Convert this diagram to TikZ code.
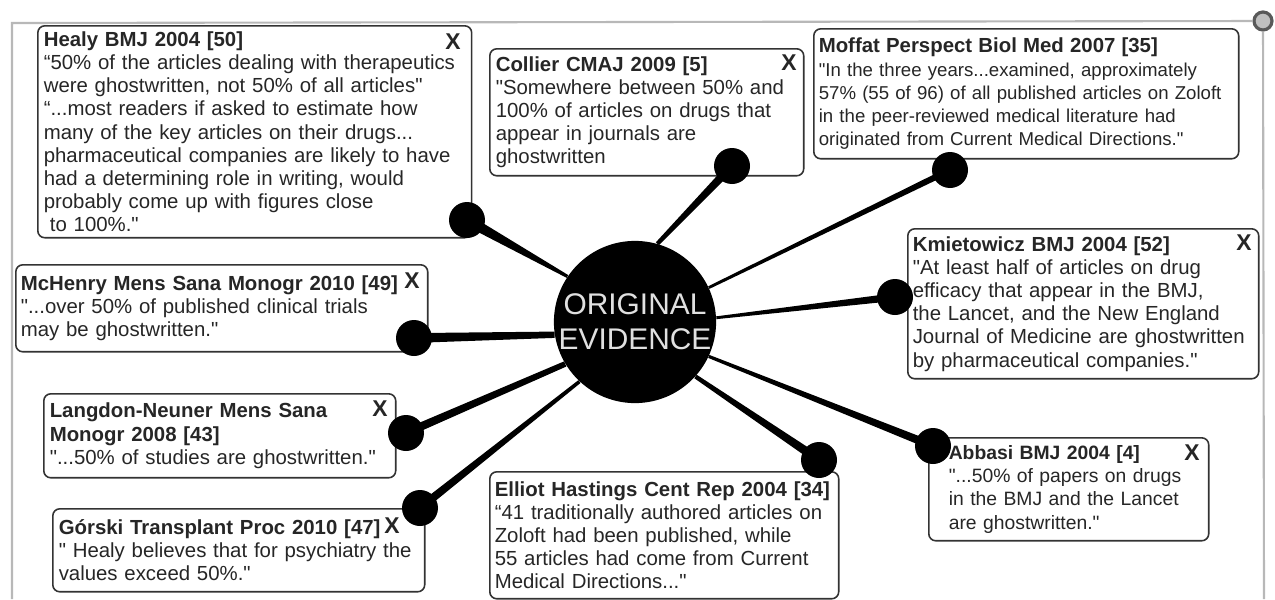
\documentclass[tikz,border=0pt]{standalone}
\usepackage{fontspec}
\setmainfont{Liberation Sans}[Ligatures=TeXOff]
\usepackage{tikz}
\usetikzlibrary{calc}
\usetikzlibrary{positioning}
\tikzstyle{quotebox} = [draw=black!80, line width=0.9pt, rounded corners=4pt, fill=white, anchor=north west, align=left, inner xsep=0.12cm, inner ysep=0.05cm, text=black!85, font=\fontsize{11.6}{13.2}\selectfont]
\tikzstyle{knob} = [circle, fill=black, minimum size=0.72cm, inner sep=0pt]
\tikzstyle{closex} = [inner sep=0pt, text=black!85, font=\bfseries\fontsize{13}{13}\selectfont]
\tikzstyle{frameline} = [draw=black!28, line width=1.2pt]
\newcommand{\spokewedge}[4]{\fill ($(#1)!#3!90:(#2)$) -- ($(#2)!#4!-90:(#1)$) -- ($(#2)!#4!90:(#1)$) -- ($(#1)!#3!-90:(#2)$) -- cycle;}

\begin{document}
\begin{tikzpicture}[x=0.02cm, y=-0.02cm]
\useasboundingbox (0,0) rectangle (1275,599);
% frame
\node [circle, fill=black!25, draw=black!65, line width=1.8pt, minimum size=0.36cm, inner sep=0pt] (corner) at (1263,21) {};
\draw [frameline] (12,599) -- (12,23) -- (corner);
\draw [frameline] (corner) -- (1264,599);
% quotes
\node [quotebox, text width=8.44cm, minimum height=4.24cm] (healy) at (37,25) {\textbf{Healy BMJ 2004 [50]}\\“50\% of the articles dealing with therapeutics\\were ghostwritten, not 50\% of all articles"\\“...most readers if asked to estimate how\\many of the key articles on their drugs...\\pharmaceutical companies are likely to have\\had a determining role in writing, would\\probably come up with figures close\\\hspace*{0.3em}to 100\%."};
\node [quotebox, text width=6.04cm, minimum height=2.54cm] (collier) at (489,48) {\textbf{Collier CMAJ 2009 [5]}\\"Somewhere between 50\% and\\100\% of articles on drugs that\\appear in journals are\\ghostwritten};
\node [quotebox, inner xsep=0.1cm, text width=8.3cm, minimum height=2.6cm, font=\fontsize{10.6}{13.2}\selectfont] (moffat) at (813,28) {\textbf{\fontsize{11.6}{13.2}\selectfont Moffat Perspect Biol Med 2007 [35]}\\"In the three years...examined, approximately\\57\% (55 of 96) of all published articles on Zoloft\\in the peer-reviewed medical literature had\\originated from Current Medical Directions."};
\node [quotebox, inner xsep=0.1cm, text width=6.82cm, minimum height=3cm] (kmiet) at (907,228) {\textbf{Kmietowicz BMJ 2004 [52]}\\"At least half of articles on drug\\efficacy that appear in the BMJ,\\the Lancet, and the New England\\Journal of Medicine are ghostwritten\\by pharmaceutical companies."};
\node [quotebox, inner xsep=0.4cm, text width=4.8cm, minimum height=2.06cm, font=\fontsize{11}{13.2}\selectfont] (abbasi) at (928,437) {\textbf{Abbasi BMJ 2004 [4]}\\"...50\% of papers on drugs\\in the BMJ and the Lancet\\are ghostwritten."};
\node [quotebox, inner xsep=0.1cm, text width=6.78cm, minimum height=2.54cm] (elliot) at (489,471) {\textbf{Elliot Hastings Cent Rep 2004 [34]}\\“41 traditionally authored articles on\\Zoloft had been published, while\\55 articles had come from Current\\Medical Directions..."};
\node [quotebox, text width=7.2cm, minimum height=1.66cm] (gorski) at (52,508) {\textbf{Górski Transplant Proc 2010 [47]}\\" Healy believes that for psychiatry the\\values exceed 50\%."};
\node [quotebox, text width=6.8cm, minimum height=1.68cm] (langdon) at (43,393) {\textbf{Langdon-Neuner Mens Sana}\\\textbf{Monogr 2008 [43]}\\"...50\% of studies are ghostwritten."};
\node [quotebox, inner xsep=0.1cm, text width=8.04cm, minimum height=1.74cm] (mchenry) at (15,264) {\textbf{McHenry Mens Sana Monogr 2010 [49]}\\"...over 50\% of published clinical trials\\may be ghostwritten."};
% close marks
\node [closex] (healyx) at (453,42) {X};
\node [closex] (collierx) at (789,63) {X};
\node [closex] (kmietx) at (1244,243) {X};
\node [closex] (abbasix) at (1192,453) {X};
\node [closex] (mchenryx) at (412,281) {X};
\node [closex] (langdonx) at (380,409) {X};
\node [closex] (gorskix) at (392,526) {X};
% hub and spokes
\node [circle, fill=black, minimum size=3.24cm, inner sep=0pt, align=center, text=black!12, font=\fontsize{17}{20}\selectfont] (hub) at (635,322) {ORIGINAL\\EVIDENCE};
\node [knob] (healydot) at (467,220) {};
\node [knob] (collierdot) at (732,166) {};
\node [knob] (moffatdot) at (950,170) {};
\node [knob] (kmietdot) at (895,297) {};
\node [knob] (abbasidot) at (933,446) {};
\node [knob] (elliotdot) at (819,460) {};
\node [knob] (gorskidot) at (420,508) {};
\node [knob] (langdondot) at (406,433) {};
\node [knob] (mchenrydot) at (414,338) {};
\spokewedge{healydot}{hub.146}{3.2pt}{0.9pt}
\spokewedge{collierdot}{hub.74}{2.5pt}{1.2pt}
\spokewedge{moffatdot}{hub.25}{1.8pt}{0.8pt}
\spokewedge{kmietdot}{hub.3}{2.2pt}{0.8pt}
\spokewedge{abbasidot}{hub.335}{2.4pt}{0.9pt}
\spokewedge{elliotdot}{hub.318}{2.6pt}{1.2pt}
\spokewedge{gorskidot}{hub.227}{2.4pt}{1pt}
\spokewedge{langdondot}{hub.211}{2.4pt}{1.6pt}
\spokewedge{mchenrydot}{hub.189}{2.8pt}{1.8pt}
\end{tikzpicture}
\end{document}
